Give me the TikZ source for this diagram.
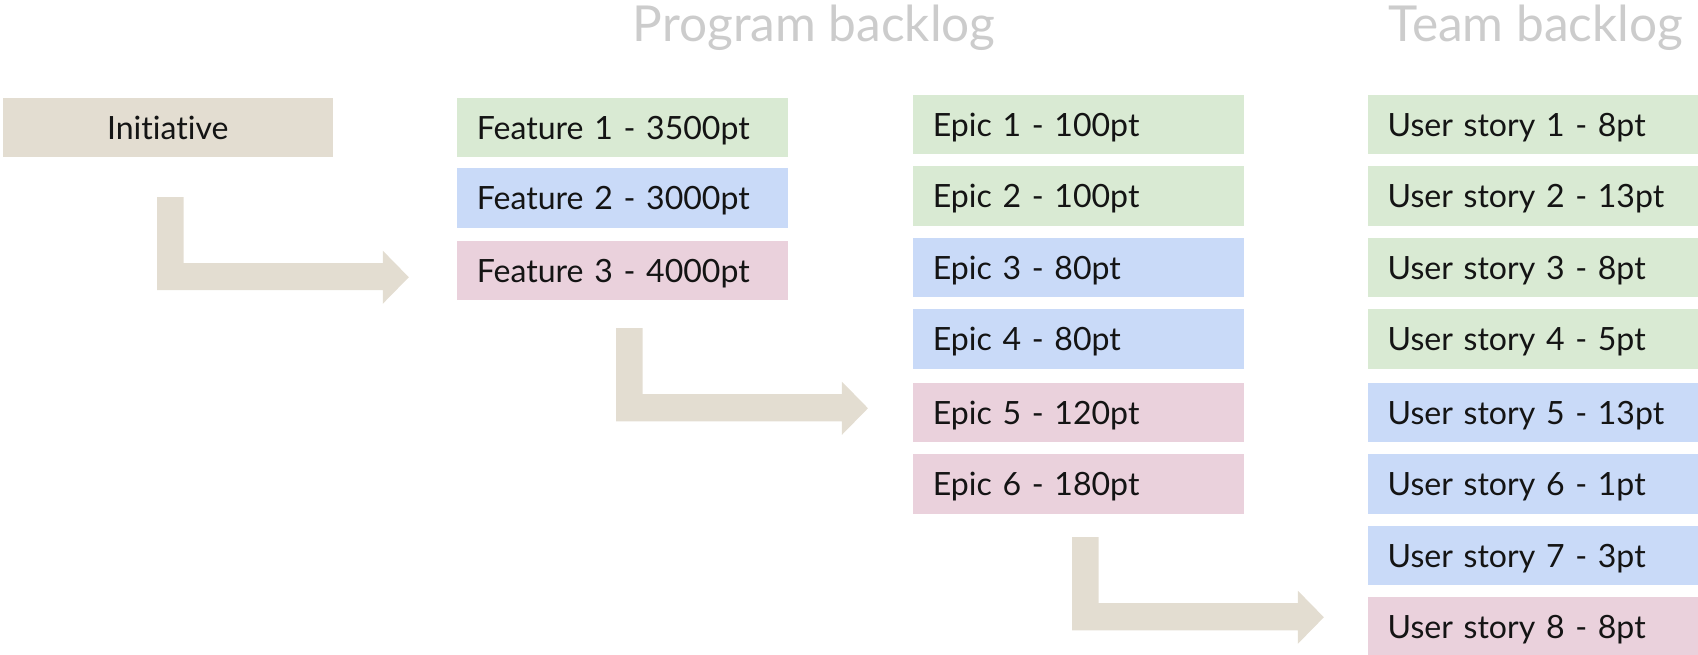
\documentclass[tikz,border=0pt]{standalone}
\usepackage{fontspec}
\setmainfont[Ligatures={NoCommon}]{Lato}
\definecolor{tanfill}{HTML}{E3DDD1}
\definecolor{greenfill}{HTML}{D9EAD3}
\definecolor{bluefill}{HTML}{C9DAF8}
\definecolor{pinkfill}{HTML}{EAD1DC}
\definecolor{titlegray}{HTML}{CCCCCC}
\definecolor{inktext}{HTML}{141414}
\begin{document}
\begin{tikzpicture}[x=0.5pt,y=-0.5pt,
  item/.style={anchor=north west, inner xsep=9pt, inner ysep=0pt,
    text width=134.5pt, minimum height=27.5pt, align=left,
    text height=11pt, text depth=0pt,
    font=\fontsize{14.8}{17}\selectfont, text=inktext},
  greenitem/.style={item, fill=greenfill},
  blueitem/.style={item, fill=bluefill},
  pinkitem/.style={item, fill=pinkfill},
  heading/.style={anchor=base west, inner sep=0pt, text=titlegray,
    font=\fontsize{22.9}{26}\selectfont},
  flowarrow/.style={fill=tanfill},
]
\useasboundingbox (0,0) rectangle (1568,604);
\clip (0,0) rectangle (1568,604);

% column headings
\node[heading] (prog) at (584,38) {Program backlog};
\node[heading] (team) at (1282,38) {Team backlog};

% initiative
\node[item, fill=tanfill, align=center] (init) at (2,90) {Initiative};

% features
\node[greenitem] (f1) at (422,90)  {Feature 1 - 3500pt};
\node[blueitem]  (f2) at (422,155) {Feature 2 - 3000pt};
\node[pinkitem]  (f3) at (422,222) {Feature 3 - 4000pt};

% epics
\node[greenitem] (e1) at (843,87)  {Epic 1 - 100pt};
\node[greenitem] (e2) at (843,153) {Epic 2 - 100pt};
\node[blueitem]  (e3) at (843,219) {Epic 3 - 80pt};
\node[blueitem]  (e4) at (843,285) {Epic 4 - 80pt};
\node[pinkitem]  (e5) at (843,353) {Epic 5 - 120pt};
\node[pinkitem]  (e6) at (843,419) {Epic 6 - 180pt};

% user stories
\node[greenitem] (u1) at (1263,87)  {User story 1 - 8pt};
\node[greenitem] (u2) at (1263,153) {User story 2 - 13pt};
\node[greenitem] (u3) at (1263,219) {User story 3 - 8pt};
\node[greenitem] (u4) at (1263,285) {User story 4 - 5pt};
\node[blueitem]  (u5) at (1263,353) {User story 5 - 13pt};
\node[blueitem]  (u6) at (1263,419) {User story 6 - 1pt};
\node[blueitem]  (u7) at (1263,485) {User story 7 - 3pt};
\node[pinkitem]  (u8) at (1263,551) {User story 8 - 8pt};

% bent arrows between the levels
\foreach \ax/\ay in {145/182, 569/303, 990/496} {
  \fill[flowarrow, shift={(\ax,\ay)}]
    (0,0) -- (24.5,0) -- (24.5,61) -- (208.5,61) -- (208.5,49.5)
    -- (232.5,74) -- (208.5,98.5) -- (208.5,86) -- (0,86) -- cycle;
}
\end{tikzpicture}
\end{document}
